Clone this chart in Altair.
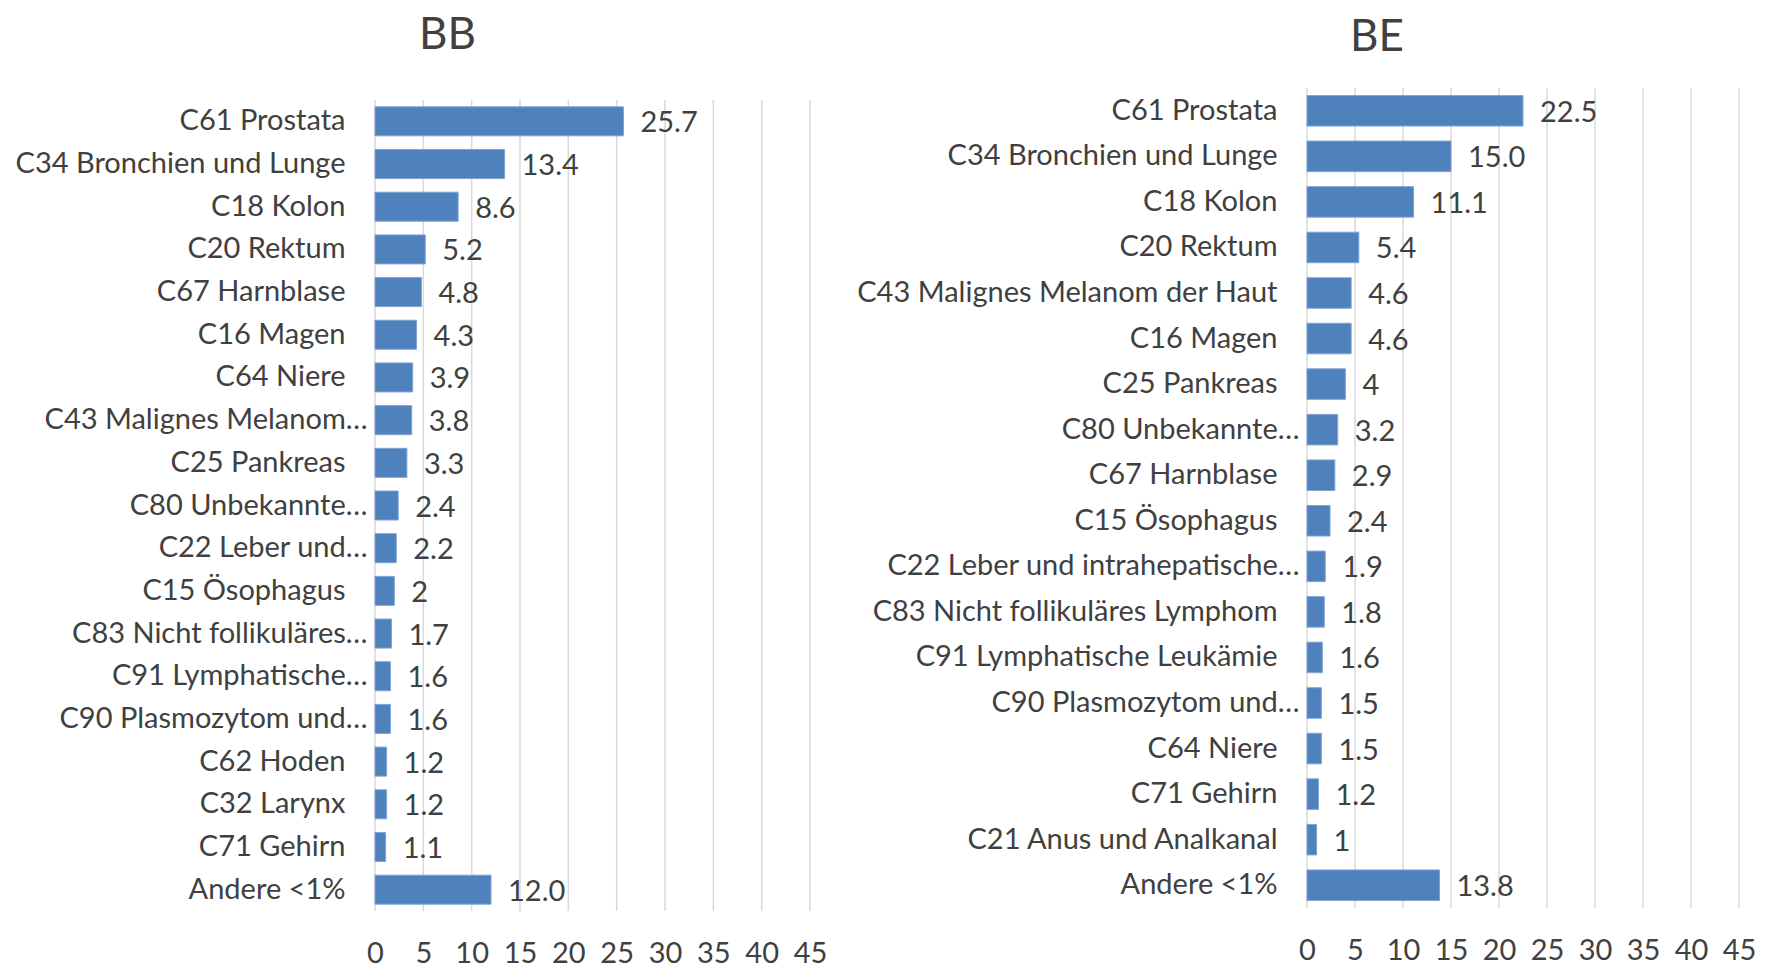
import altair as alt
import pandas as pd

bb_categories = [
    "C61 Prostata", "C34 Bronchien und Lunge", "C18 Kolon", "C20 Rektum",
    "C67 Harnblase", "C16 Magen", "C64 Niere", "C43 Malignes Melanom…",
    "C25 Pankreas", "C80 Unbekannte…", "C22 Leber und…", "C15 Ösophagus",
    "C83 Nicht follikuläres…", "C91 Lymphatische…", "C90 Plasmozytom und…",
    "C62 Hoden", "C32 Larynx", "C71 Gehirn", "Andere <1%",
]
bb_values = [25.7, 13.4, 8.6, 5.2, 4.8, 4.3, 3.9, 3.8, 3.3, 2.4, 2.2, 2.0,
             1.7, 1.6, 1.6, 1.2, 1.2, 1.1, 12.0]
bb_labels = ["25.7", "13.4", "8.6", "5.2", "4.8", "4.3", "3.9", "3.8", "3.3",
             "2.4", "2.2", "2", "1.7", "1.6", "1.6", "1.2", "1.2", "1.1", "12.0"]

be_categories = [
    "C61 Prostata", "C34 Bronchien und Lunge", "C18 Kolon", "C20 Rektum",
    "C43 Malignes Melanom der Haut", "C16 Magen", "C25 Pankreas",
    "C80 Unbekannte…", "C67 Harnblase", "C15 Ösophagus",
    "C22 Leber und intrahepatische…", "C83 Nicht follikuläres Lymphom",
    "C91 Lymphatische Leukämie", "C90 Plasmozytom und…", "C64 Niere",
    "C71 Gehirn", "C21 Anus und Analkanal", "Andere <1%",
]
be_values = [22.5, 15.0, 11.1, 5.4, 4.6, 4.6, 4.0, 3.2, 2.9, 2.4, 1.9, 1.8,
             1.6, 1.5, 1.5, 1.2, 1.0, 13.8]
be_labels = ["22.5", "15.0", "11.1", "5.4", "4.6", "4.6", "4", "3.2", "2.9",
             "2.4", "1.9", "1.8", "1.6", "1.5", "1.5", "1.2", "1", "13.8"]

x_ticks = [0, 5, 10, 15, 20, 25, 30, 35, 40, 45]

FONT = "Lato"
TEXT = "#404040"
BAR = "#4f81bd"
BAR_EDGE = "#7fa4d4"
GRID = "#d9d9d9"
FS = 29


def panel(title, cats, vals, labs, width, height, top_extra, pad_inner, title_offset, title_dx):
    df = pd.DataFrame({"cat": cats, "val": vals, "lab": labs})
    ticks = pd.DataFrame({"t": x_ticks})
    n = len(cats)
    step = (height - top_extra) / n
    pad_outer = (top_extra / step + pad_inner) / 2
    align = (top_extra + pad_inner / 2 * step) / (2 * pad_outer * step)

    x_scale = alt.Scale(domain=[0, 45], nice=False, zero=True)
    y_scale = alt.Scale(paddingInner=pad_inner, paddingOuter=pad_outer, align=align)
    x_axis = alt.Axis(
        values=x_ticks, domain=False, ticks=False, grid=False, labelFlush=False,
        labelFont=FONT, labelFontSize=FS, labelColor=TEXT, labelPadding=28,
    )
    y_axis = alt.Axis(
        domain=False, ticks=False, grid=False,
        labelFont=FONT, labelFontSize=FS, labelColor=TEXT, labelLimit=1000,
        labelPadding={"condition": {"test": "indexof(datum.label, '…') >= 0", "value": 8}, "value": 30},
    )

    grid = alt.Chart(ticks).mark_rule(color=GRID, strokeWidth=1.5).encode(
        x=alt.X("t:Q", scale=x_scale, axis=x_axis, title=None),
        y=alt.value(top_extra), y2=alt.value(height),
    )
    bars = alt.Chart(df).mark_bar(color=BAR, stroke=BAR_EDGE, strokeWidth=1).encode(
        x=alt.X("val:Q", scale=x_scale, axis=x_axis, title=None),
        y=alt.Y("cat:N", sort=cats, scale=y_scale, axis=y_axis, title=None),
    )
    text = alt.Chart(df).mark_text(
        align="left", baseline="middle", dx=17, dy=2, font=FONT, fontSize=FS, color=TEXT
    ).encode(
        x=alt.X("val:Q", scale=x_scale, axis=x_axis, title=None),
        y=alt.Y("cat:N", sort=cats, scale=y_scale, axis=y_axis, title=None),
        text="lab:N",
    )
    return alt.layer(grid, bars, text).properties(
        width=width, height=height,
        title=alt.TitleParams(title, font=FONT, fontSize=44, color=TEXT, fontWeight="normal",
                              offset=title_offset, anchor="middle", dx=title_dx),
    )


left = panel("BB", bb_categories, bb_values, bb_labels, 435, 823, 12, 0.32, 30, -145)
right = panel("BE", be_categories, be_values, be_labels, 432, 820, 0, 0.33, 27, -146)

chart = alt.hconcat(left, right, spacing=29).properties(
    padding={"left": 7, "top": 6, "right": 0, "bottom": 0}
).configure_view(stroke=None)

chart.save("out.html", embed_options={"renderer": "svg", "actions": False})
